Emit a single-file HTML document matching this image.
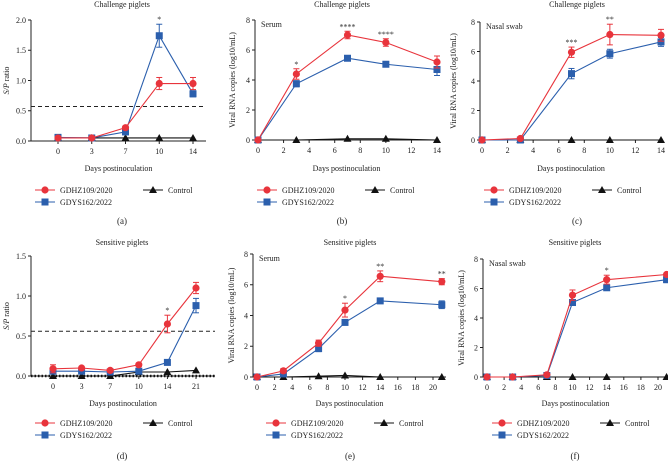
<!DOCTYPE html>
<html><head><meta charset="utf-8">
<style>
body{margin:0;background:#fff;}
svg{display:block;font-family:"Liberation Serif",serif;}
</style></head>
<body>
<svg id="fig" width="668" height="462" viewBox="0 0 668 462" xmlns="http://www.w3.org/2000/svg"></svg>
<script>
// ---- data ----
const aDays=["0","3","7","10","14"];
const aRed=[0.05,0.05,0.22,0.95,0.95];
const aRedErr=[0.02,0.02,0.03,0.1,0.1];
const aBlue=[0.06,0.05,0.15,1.74,0.78];
const aBlueErr=[0.02,0.02,0.02,0.19,0.05];
const aCtrl=[0.05,0.05,0.05,0.05,0.05];
const aStars=["","","","*",""];

const bDays=[0,3,7,10,14];
const bRed=[0,4.4,7.0,6.5,5.2];
const bRedErr=[0.05,0.35,0.25,0.25,0.4];
const bBlue=[0,3.75,5.45,5.05,4.7];
const bBlueErr=[0.05,0.2,0.15,0.1,0.4];
const bCtrl=[0,0,0.08,0.08,0];
const bStars=["","*","****","****",""];

const cDays=[0,3,7,10,14];
const cRed=[0,0.1,5.95,7.15,7.1];
const cRedErr=[0.05,0.1,0.35,0.7,0.4];
const cBlue=[0,0,4.5,5.85,6.65];
const cBlueErr=[0.05,0.05,0.35,0.3,0.3];
const cCtrl=[0,0,0,0,0];
const cStars=["","","***","**",""];

const dDays=["0","3","7","10","14","21"];
const dRed=[0.09,0.1,0.07,0.14,0.65,1.1];
const dRedErr=[0.05,0.02,0.02,0.02,0.11,0.07];
const dBlue=[0.06,0.06,0.05,0.06,0.17,0.88];
const dBlueErr=[0.02,0.02,0.02,0.02,0.02,0.09];
const dCtrl=[0,0,0,0.05,0.05,0.07];
const dStars=["","","","","*",""];

const eDays=[0,3,7,10,14,21];
const eRed=[0,0.4,2.2,4.35,6.55,6.2];
const eRedErr=[0.05,0.15,0.2,0.45,0.35,0.2];
const eBlue=[0,0.2,1.85,3.55,4.95,4.7];
const eBlueErr=[0.05,0.1,0.2,0.1,0.1,0.25];
const eCtrl=[0,0,0.05,0.1,0,0];
const eStars=["","","","*","**","**"];

const fDays=[0,3,7,10,14,21];
const fRed=[0,0,0.15,5.55,6.6,6.95];
const fRedErr=[0.05,0.05,0.1,0.35,0.3,0.1];
const fBlue=[0,0,0.1,5.05,6.05,6.6];
const fBlueErr=[0.05,0.05,0.1,0.15,0.1,0.2];
const fCtrl=[0,0,0,0,0,0];
const fStars=["","","","","*",""];

const RED="#e8343c",BLUE="#2b5fad";
const svg=document.getElementById('fig');
const NS="http://www.w3.org/2000/svg";
function el(tag,attrs,parent,text){const e=document.createElementNS(NS,tag);for(const k in attrs)e.setAttribute(k,attrs[k]);if(text!==undefined)e.textContent=text;(parent||svg).appendChild(e);return e;}

function panel(o){
  const g=el('g',{});
  
  
  const sx=o.cat?(i=>o.x0+(o.x1-o.x0)*i/(o.n-1)):(v=>o.x0+(o.x1-o.x0)*(v-o.xmin)/(o.xmax-o.xmin));
  const sy=v=>o.y0-(o.y0-o.yTop)*v/o.ymax;
  // title
  const t=el('text',{x:o.tx,y:o.ty,'font-size':8,'text-anchor':'middle',fill:'#222'},g,o.title);
  
  // axes
  const ya=el('line',{x1:o.ax,y1:o.yTop,x2:o.ax,y2:o.y0,stroke:'#222','stroke-width':1},g);
  
  const xa=el('line',{x1:o.ax,y1:o.y0,x2:o.axEnd,y2:o.y0,stroke:'#222','stroke-width':1},g);
  
  o.yTicks.forEach(v=>{const y=sy(v);el('line',{x1:o.ax-3,y1:y,x2:o.ax,y2:y,stroke:'#222'},g);
    const tl=el('text',{x:o.ax-5,y:y+2.8,'font-size':8,'text-anchor':'end',fill:'#222'},g,o.yFmt(v));
    });
  const xt=o.cat?o.days.map((d,i)=>[sx(i),d]):o.xTicks.map(v=>[sx(v),String(v)]);
  xt.forEach(([x,l])=>{el('line',{x1:x,y1:o.y0,x2:x,y2:o.y0+3,stroke:'#222'},g);
    const tl=el('text',{x:x,y:o.y0+13,'font-size':8,'text-anchor':'middle',fill:'#222'},g,l);
    });
  const xl=el('text',{x:(o.ax+o.axEnd)/2,y:o.xly,'font-size':8,'text-anchor':'middle',fill:'#222'},g,'Days postinoculation');
  
  const yl=el('text',{x:0,y:0,'font-size':8,'text-anchor':'middle',fill:'#222',transform:`translate(${o.ylx},${(o.y0+o.yTop)/2}) rotate(-90)`},g);
  
  if(o.sp){el('tspan',{'font-style':'italic'},yl,'S/P');el('tspan',{},yl,' ratio');}else yl.textContent='Viral RNA copies (log10/mL)';
  if(o.inner){const it=el('text',{x:o.ax+6,y:o.yTop+7,'font-size':8,fill:'#222'},g,o.inner);}
  if(o.cut!==undefined){const dl=el('line',{x1:o.ax,y1:sy(o.cut),x2:o.axEnd,y2:sy(o.cut),stroke:'#222','stroke-dasharray':'4,3','stroke-width':1},g);
    }
  if(o.dotted){const dl=el('line',{x1:o.ax,y1:o.y0,x2:o.axEnd,y2:o.y0,stroke:'#111','stroke-dasharray':'1.5,2','stroke-width':2.5},g);
    }
  const X=i=>o.cat?sx(i):sx(o.days[i]);
  function series(vals,errs,color,shape,name){
    const pts=vals.map((v,i)=>X(i)+','+sy(v)).join(' ');
    const pl=el('polyline',{points:pts,fill:'none',stroke:color,'stroke-width':1.1},g);
    
    vals.forEach((v,i)=>{const x=X(i),y=sy(v);
      if(errs){const e=errs[i];el('line',{x1:x,y1:sy(v+e),x2:x,y2:sy(v-e),stroke:color,'stroke-width':1},g);
        el('line',{x1:x-3,y1:sy(v+e),x2:x+3,y2:sy(v+e),stroke:color},g);el('line',{x1:x-3,y1:sy(v-e),x2:x+3,y2:sy(v-e),stroke:color},g);}
      let m;
      if(shape==='c')m=el('circle',{cx:x,cy:y,r:3.6,fill:color},g);
      else if(shape==='s')m=el('rect',{x:x-3.5,y:y-3.5,width:7,height:7,fill:color},g);
      else m=el('polygon',{points:`${x},${y-4} ${x-4},${y+3} ${x+4},${y+3}`,fill:color},g);
      });
  }
  series(o.ctrl,null,'#111','t','control');
  series(o.blue,o.blueErr,BLUE,'s','gdys162');
  series(o.red,o.redErr,RED,'c','gdhz109');
  o.stars.forEach((s,i)=>{if(!s)return;const top=Math.max(o.red[i]+o.redErr[i],o.blue[i]+o.blueErr[i]);
    const st=el('text',{x:X(i),y:sy(top)-2,'font-size':8,'text-anchor':'middle',fill:'#333'},g,s);
    });
  // legend
  const L=o.lx,r1=o.ly,r2=o.ly+12;
  function leg(x,y,color,shape,label,name){
    const lg=el('g',{},g);
    el('line',{x1:x,y1:y,x2:x+20,y2:y,stroke:color,'stroke-width':1.1},lg);
    const cx=x+10;
    if(shape==='c')el('circle',{cx:cx,cy:y,r:3.6,fill:color},lg);
    else if(shape==='s')el('rect',{x:cx-3.5,y:y-3.5,width:7,height:7,fill:color},lg);
    else el('polygon',{points:`${cx},${y-4} ${cx-4},${y+3} ${cx+4},${y+3}`,fill:color},lg);
    el('text',{x:x+25,y:y+3,'font-size':8,fill:'#222'},lg,label);
  }
  leg(L,r1,RED,'c','GDHZ109/2020','gdhz109');
  leg(L,r2,BLUE,'s','GDYS162/2022','gdys162');
  leg(L+108,r1,'#111','t','Control','control');
  const pl=el('text',{x:o.tx,y:o.ply,'font-size':9,'text-anchor':'middle',fill:'#222'},g,'('+o.id+')');
  
}
const f1=v=>v.toFixed(1), f0=v=>String(v);
panel({id:'a',title:'Challenge piglets',tx:122,ty:7,cat:true,n:5,days:aDays,x0:58,x1:193,ax:31,axEnd:206,y0:141,yTop:20,ymax:2,yTicks:[0,0.5,1,1.5,2],yFmt:f1,
  red:aRed,redErr:aRedErr,blue:aBlue,blueErr:aBlueErr,ctrl:aCtrl,stars:aStars,cut:0.57,sp:true,ylx:9,xly:171,lx:35,ly:190,ply:224});
panel({id:'b',title:'Challenge piglets',tx:342,ty:7,cat:false,days:bDays,xmin:0,xmax:14,xTicks:[0,2,4,6,8,10,12,14],x0:258,x1:437,ax:255,axEnd:438,y0:140,yTop:20,ymax:8,yTicks:[0,2,4,6,8],yFmt:f0,
  red:bRed,redErr:bRedErr,blue:bBlue,blueErr:bBlueErr,ctrl:bCtrl,stars:bStars,inner:'Serum',ylx:235,xly:171,lx:257,ly:190,ply:224});
panel({id:'c',title:'Challenge piglets',tx:577,ty:7,cat:false,days:cDays,xmin:0,xmax:14,xTicks:[0,2,4,6,8,10,12,14],x0:482,x1:661,ax:480,axEnd:662,y0:140,yTop:22,ymax:8,yTicks:[0,2,4,6,8],yFmt:f0,
  red:cRed,redErr:cRedErr,blue:cBlue,blueErr:cBlueErr,ctrl:cCtrl,stars:cStars,inner:'Nasal swab',ylx:456,xly:171,lx:484,ly:190,ply:224});
panel({id:'d',title:'Sensitive piglets',tx:122,ty:245,cat:true,n:6,days:dDays,x0:53,x1:196,ax:31,axEnd:215,y0:376,yTop:256,ymax:1.5,yTicks:[0,0.5,1,1.5],yFmt:f1,
  red:dRed,redErr:dRedErr,blue:dBlue,blueErr:dBlueErr,ctrl:dCtrl,stars:dStars,cut:0.56,dotted:true,sp:true,ylx:9,xly:406,lx:35,ly:423,ply:459});
panel({id:'e',title:'Sensitive piglets',tx:350,ty:245,cat:false,days:eDays,xmin:0,xmax:20,xTicks:[0,2,4,6,8,10,12,14,16,18,20],x0:257,x1:433,ax:253,axEnd:446,y0:377,yTop:254,ymax:8,yTicks:[0,2,4,6,8],yFmt:f0,
  red:eRed,redErr:eRedErr,blue:eBlue,blueErr:eBlueErr,ctrl:eCtrl,stars:eStars,inner:'Serum',ylx:234,xly:406,lx:266,ly:423,ply:459});
panel({id:'f',title:'Sensitive piglets',tx:575,ty:245,cat:false,days:fDays,xmin:0,xmax:20,xTicks:[0,2,4,6,8,10,12,14,16,18,20],x0:487,x1:658,ax:483,axEnd:668,y0:377,yTop:259,ymax:8,yTicks:[0,2,4,6,8],yFmt:f0,
  red:fRed,redErr:fRedErr,blue:fBlue,blueErr:fBlueErr,ctrl:fCtrl,stars:fStars,inner:'Nasal swab',ylx:464,xly:406,lx:492,ly:423,ply:459});
</script>
</body></html>
